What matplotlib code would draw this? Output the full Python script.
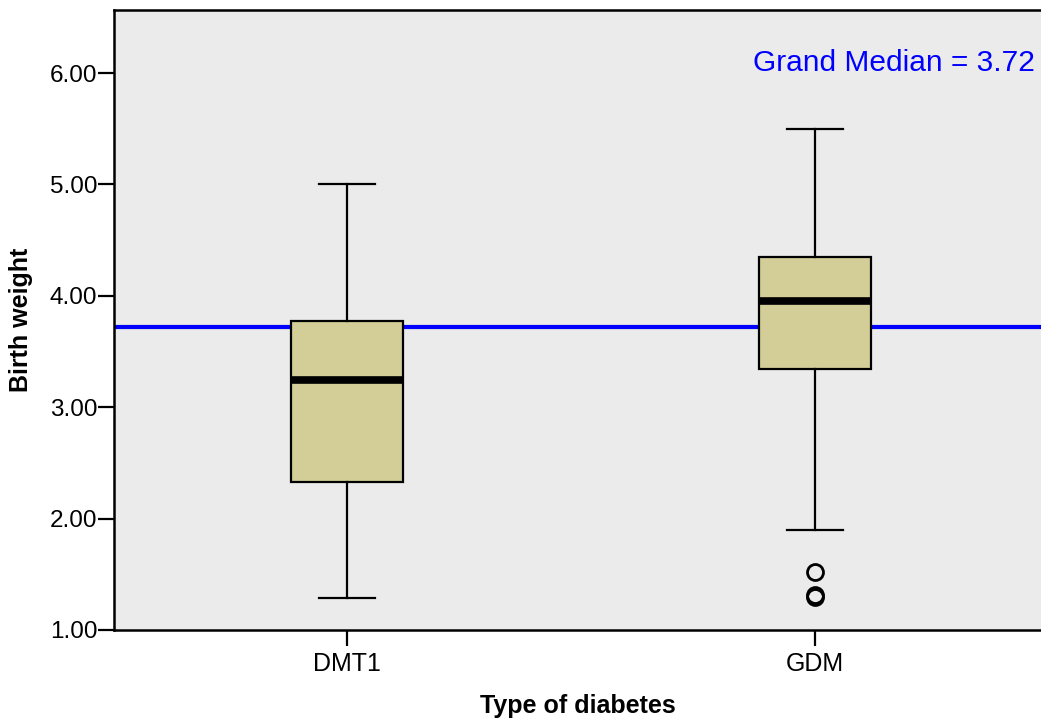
import matplotlib
matplotlib.use("Agg")
import matplotlib.pyplot as plt
from matplotlib import font_manager

categories = ["DMT1", "GDM"]
whisker_low = [1.29, 1.90]
q1 = [2.33, 3.34]
medians = [3.24, 3.95]
q3 = [3.77, 4.35]
whisker_high = [5.00, 5.50]
outliers = [[], [1.52, 1.30, 1.31]]
grand_median = 3.72
yticks = [1.0, 2.0, 3.0, 4.0, 5.0, 6.0]

plt.rcParams['font.family'] = ['Liberation Sans', 'DejaVu Sans']
names = {f.name for f in font_manager.fontManager.ttflist}
narrow = ['Liberation Sans Narrow', 'Liberation Sans'] if 'Liberation Sans Narrow' in names else ['Liberation Sans']

fig = plt.figure(figsize=(10.41, 7.21), dpi=100)
ax = fig.add_axes([114/1041, 91/721, 927/1041, 620/721])
ax.set_facecolor('#EBEBEB')

stats = []
for i, c in enumerate(categories):
    stats.append(dict(label=c, whislo=whisker_low[i], q1=q1[i], med=medians[i],
                      q3=q3[i], whishi=whisker_high[i], fliers=outliers[i]))

ax.bxp(stats, positions=[0, 1], widths=0.24, capwidths=0.12, patch_artist=True,
       boxprops=dict(facecolor='#D3CE97', edgecolor='black', linewidth=1.6),
       medianprops=dict(color='black', linewidth=5.5, solid_capstyle='butt'),
       whiskerprops=dict(color='black', linewidth=1.6),
       capprops=dict(color='black', linewidth=1.6),
       flierprops=dict(marker='o', markerfacecolor='none', markeredgecolor='black',
                       markersize=11.5, markeredgewidth=2))

ax.axhline(grand_median, color='#0000FF', linewidth=3, zorder=1)
ax.text(0.9935, 6.09, f"Grand Median = {grand_median:.2f}", color='#0000FF',
        fontsize=21.5, ha='right', va='center', transform=ax.get_yaxis_transform())

ax.set_xlim(-0.498, 1.483)
ax.set_ylim(1.0, 6.566)
ax.set_yticks(yticks)
ax.set_yticklabels([f"{v:.2f}" for v in yticks], fontsize=17.5)
ax.set_xticks([0, 1])
ax.set_xticklabels(categories, fontsize=18, family=narrow)
ax.tick_params(axis='both', direction='out', length=11.5, width=1.6, color='black')
ax.tick_params(axis='y', pad=0.5)
ax.tick_params(axis='x', pad=4)

for s in ['left', 'bottom', 'top']:
    ax.spines[s].set_linewidth(1.8)
    ax.spines[s].set_color('black')
ax.spines['right'].set_visible(False)

ax.set_ylabel("Birth weight", fontsize=18, fontweight='bold')
ax.yaxis.set_label_coords(-81/927, 0.5)
ax.set_xlabel("Type of diabetes", fontsize=18, fontweight='bold')
ax.xaxis.set_label_coords(0.5, -64/620)

fig.savefig("out.png", dpi=100)
